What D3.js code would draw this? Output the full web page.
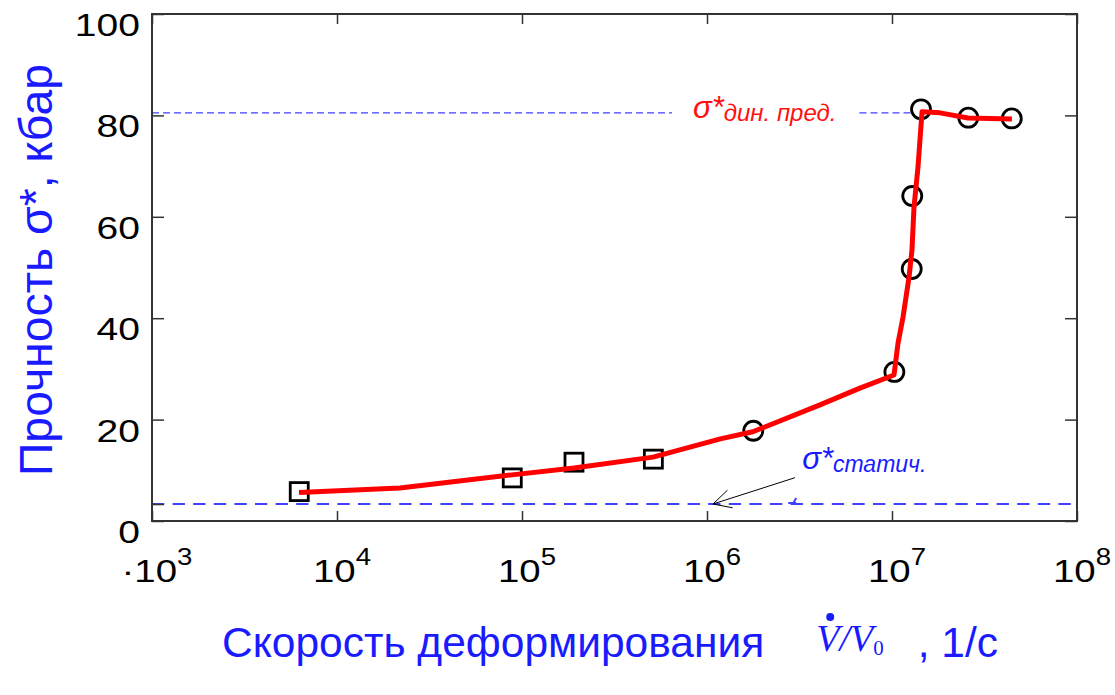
<!DOCTYPE html>
<html><head><meta charset="utf-8">
<script src="https://cdn.jsdelivr.net/npm/d3@7"></script>
<style>body{margin:0;background:#fff}svg{display:block}</style>
</head><body>
<svg id="c" width="1115" height="695"></svg>
<script>
// ---- data ----
const squareX = [6250, 88600, 191000, 513000];
const squareY = [5.8, 8.5, 11.6, 12.2];
const circleX = [1.78e6, 1.03e7, 1.278e7, 1.287e7, 1.435e7, 2.585e7, 4.44e7];
const circleY = [17.8, 29.4, 49.7, 64.1, 81.2, 79.55, 79.4];
const curveX = [6230, 21900, 88300, 191000, 511000, 1.18e6, 1.77e6, 4.08e6, 6.71e6, 1.025e7, 1.078e7, 1.147e7, 1.236e7, 1.282e7, 1.315e7, 1.382e7, 1.453e7, 1.818e7, 2.576e7, 4.45e7];
const curveY = [5.6, 6.5, 9.1, 10.45, 12.6, 16.2, 17.6, 22.9, 26.2, 28.8, 35.1, 40.2, 48.1, 53.4, 61.9, 69.8, 80.7, 80.5, 79.5, 79.3];
const xTicks = [1e3, 1e4, 1e5, 1e6, 1e7, 1e8];
const xTickExp = ["3", "4", "5", "6", "7", "8"];
const yTicks = [0, 20, 40, 60, 80, 100];
const staticLevel = 3.35;
const dynamicLevel = 80.5;
const yTitle = "Прочность σ*, кбар";
const xTitle = "Скорость деформирования";
const xUnit = ", 1/с";

// ---- layout ----
const L = 152, R = 1077, T = 14, B = 521;
const x = d3.scaleLog().domain([1e3, 1e8]).range([L, R]);
const y = d3.scaleLinear().domain([0, 100]).range([B, T]);
const svg = d3.select('#c');
const blue = '#1a1aff', dashBlue = '#4040ff', axisCol = '#333';
const sans = 'Liberation Sans, Arial, sans-serif';

// static dashed line
svg.append('line')
  .attr('x1', x(1e3)).attr('x2', x(1e8))
  .attr('y1', y(staticLevel)).attr('y2', y(staticLevel))
  .attr('stroke', dashBlue).attr('stroke-width', 2)
  .attr('stroke-dasharray', '12.3,8.3');

// dynamic limit label
const dynX = x(8.4e5);
const dynT = svg.append('text').attr('transform', `translate(${dynX},${y(78.9)})`)
  .attr('fill', '#ff1010').attr('font-family', sans).attr('font-style', 'italic');
dynT.append('tspan').attr('font-size', 31).attr('dy', -3).text('σ*');
dynT.append('tspan').attr('font-size', 24).attr('dy', 3).text('дин. пред.');
const dynW = dynT.node().getComputedTextLength();
const gx0 = dynX - 21, gx1 = dynX + dynW + 23;
[[x(1e3), gx0], [gx1, x(1.3e7)]].forEach(([a, b]) => {
  svg.append('line').attr('x1', a).attr('x2', b)
    .attr('y1', y(dynamicLevel)).attr('y2', y(dynamicLevel))
    .attr('stroke', dashBlue).attr('stroke-width', 1.3)
    .attr('stroke-dasharray', '7,4');
});

// frame
svg.append('rect').attr('x', L).attr('y', T).attr('width', R - L).attr('height', B - T)
  .attr('fill', 'none').attr('stroke', axisCol).attr('stroke-width', 2);

// axes ticks (inward)
const styleAxis = g => { g.select('.domain').remove(); g.selectAll('line').attr('stroke', axisCol).attr('stroke-width', 1.5); };
svg.append('g').attr('transform', `translate(${L},0)`)
  .call(d3.axisLeft(y).tickValues(yTicks.concat([staticLevel])).tickSize(-12).tickFormat('')).call(styleAxis);
svg.append('g').attr('transform', `translate(${R},0)`)
  .call(d3.axisRight(y).tickValues(yTicks).tickSize(-12).tickFormat('')).call(styleAxis);
svg.append('g').attr('transform', `translate(0,${B})`)
  .call(d3.axisBottom(x).tickValues(xTicks).tickSize(-10).tickFormat('')).call(styleAxis);
svg.append('g').attr('transform', `translate(0,${T})`)
  .call(d3.axisTop(x).tickValues(xTicks).tickSize(-10).tickFormat('')).call(styleAxis);

// y tick labels
yTicks.forEach(v => {
  svg.append('text')
    .attr('transform', `translate(140,${y(v) + 22}) scale(1.22,1)`)
    .attr('text-anchor', 'end').attr('font-family', sans)
    .attr('font-size', 32).attr('fill', '#000').text(v);
});
// x tick labels
xTicks.forEach((v, i) => {
  const t = svg.append('text')
    .attr('transform', `translate(${x(v) + 5},582) scale(1.2,1)`)
    .attr('text-anchor', 'middle').attr('font-family', sans).attr('fill', '#000');
  if (i === 0) t.append('tspan').attr('font-size', 32).text('·');
  t.append('tspan').attr('font-size', 32).text('10');
  t.append('tspan').attr('font-size', 23).attr('dy', -17).text(xTickExp[i]);
});

// markers
svg.selectAll('rect.sq').data(squareX.map((d, i) => [d, squareY[i]])).enter()
  .append('rect').attr('class', 'sq')
  .attr('x', d => x(d[0]) - 9).attr('y', d => y(d[1]) - 9)
  .attr('width', 18).attr('height', 18)
  .attr('fill', 'none').attr('stroke', '#000').attr('stroke-width', 2.8);
svg.selectAll('circle.ci').data(circleX.map((d, i) => [d, circleY[i]])).enter()
  .append('circle').attr('class', 'ci')
  .attr('cx', d => x(d[0])).attr('cy', d => y(d[1])).attr('r', 9.5)
  .attr('fill', 'none').attr('stroke', '#000').attr('stroke-width', 2.8);

// red curve
const line = d3.line().x(d => x(d[0])).y(d => y(d[1]));
svg.append('path').datum(curveX.map((d, i) => [d, curveY[i]]))
  .attr('d', line).attr('fill', 'none').attr('stroke', '#ff0000')
  .attr('stroke-width', 5).attr('stroke-linejoin', 'round');

// static annotation
const stT = svg.append('text').attr('transform', `translate(${x(3.27e6)},${y(10.26)})`)
  .attr('fill', blue).attr('font-family', sans).attr('font-style', 'italic');
stT.append('tspan').attr('font-size', 31).text('σ*');
stT.append('tspan').attr('font-size', 23).attr('dy', 3).text('статич.');
const tail = [x(2.99e6), y(8.54)], tip = [x(1.077e6), y(staticLevel)];
svg.append('line').attr('x1', tail[0]).attr('y1', tail[1]).attr('x2', tip[0]).attr('y2', tip[1])
  .attr('stroke', '#000').attr('stroke-width', 1);
const ang = Math.atan2(tail[1] - tip[1], tail[0] - tip[0]);
[0.5, -0.45].forEach(da => {
  svg.append('line').attr('x1', tip[0]).attr('y1', tip[1])
    .attr('x2', tip[0] + 20 * Math.cos(ang + da)).attr('y2', tip[1] + 20 * Math.sin(ang + da))
    .attr('stroke', '#000').attr('stroke-width', 1);
});
// small blue stroke mark near the static line
svg.append('path')
  .attr('d', `M${x(2.75e6)},${y(staticLevel) - 1} l8,0 M${x(2.75e6) + 5},${y(staticLevel) - 1} l3,-5`)
  .attr('stroke', dashBlue).attr('stroke-width', 2).attr('fill', 'none');

// axis titles
svg.append('text').attr('transform', `translate(52,270) rotate(-90)`)
  .attr('text-anchor', 'middle').attr('font-family', sans)
  .attr('font-size', 46).attr('textLength', 412).attr('lengthAdjust', 'spacingAndGlyphs')
  .attr('fill', blue).text(yTitle);
const xt = svg.append('text').attr('x', 222).attr('y', 657)
  .attr('font-family', sans).attr('font-size', 42.5).attr('fill', blue).text(xTitle);
const titleEnd = 222 + xt.node().getComputedTextLength();
const vStart = titleEnd + 52;
const vt = svg.append('text').attr('x', vStart).attr('y', 651)
  .attr('font-family', 'Liberation Serif, Times New Roman, serif').attr('fill', blue);
vt.append('tspan').attr('font-style', 'italic').attr('font-size', 38).text('V/V');
vt.append('tspan').attr('font-size', 21).attr('dy', 4).text('0');
const vEnd = vStart + vt.node().getComputedTextLength();
svg.append('circle').attr('cx', vStart + 14).attr('cy', 617).attr('r', 4).attr('fill', blue);
svg.append('text').attr('x', vEnd + 34).attr('y', 657)
  .attr('font-family', sans).attr('font-size', 42.5).attr('fill', blue)
  .text(xUnit);
</script>
</body></html>
